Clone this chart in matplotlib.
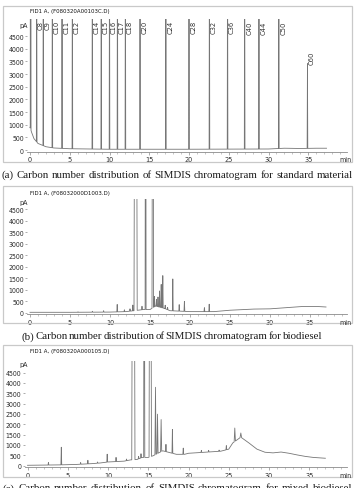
import numpy as np
import matplotlib
matplotlib.use('Agg')
import matplotlib.pyplot as plt
from matplotlib import font_manager

W, H = 355, 489

# ---------------- data ----------------
# (a) standard n-paraffin mixture (retention time in min, signal in pA)
a_labels = ['C8', 'C9', 'C10', 'C11', 'C12', 'C14', 'C15', 'C16', 'C17', 'C18',
            'C20', 'C24', 'C28', 'C32', 'C36', 'C40', 'C44', 'C50', 'C60']
a_times = [0.84, 1.67, 2.81, 4.03, 5.33, 7.84, 8.96, 10.0, 11.0, 12.0,
           13.84, 17.09, 20.0, 22.57, 24.85, 27.0, 28.8, 31.3, 34.9]
a_heights = [9000, 9000, 9000, 9000, 9000, 9000, 9000, 9000, 9000, 9000,
             9000, 9000, 9000, 9000, 9000, 9000, 9000, 9000, 3350]
a_solvent_t = [0.08]
a_solvent_h = [30000]
a_base_t = [0.0, 0.2, 0.5, 1.0, 2.0, 3.0, 5.0, 10.0, 20.0, 30.0, 32.0, 34.0, 36.0, 37.3]
a_base_v = [900, 700, 450, 260, 130, 80, 50, 30, 30, 40, 70, 60, 70, 70]

# (b) biodiesel
b_peak_t = [6.0, 7.8, 9.2, 10.9, 11.8, 12.5, 12.85, 13.2, 14.0, 14.45, 15.35,
            15.55, 15.8, 16.0, 16.2, 16.4, 16.6, 16.9, 17.2, 17.85, 18.65, 19.3,
            21.8, 22.4]
b_peak_h = [20, 40, 60, 320, 80, 100, 250, 30000, 150, 20000, 20000,
            450, 300, 420, 700, 1000, 1400, 150, 100, 1380, 280, 430,
            170, 320]
b_peak_w = [0.05, 0.05, 0.05, 0.05, 0.05, 0.05, 0.05, 0.2, 0.05, 0.06, 0.1,
            0.05, 0.05, 0.05, 0.05, 0.05, 0.05, 0.05, 0.05, 0.05, 0.05, 0.05,
            0.05, 0.05]
b_base_t = [0.0, 5.0, 10.0, 12.0, 13.0, 14.2, 15.0, 15.7, 16.8, 17.5, 20.0, 23.0,
            25.0, 28.0, 30.0, 32.0, 34.0, 36.0, 37.0]
b_base_v = [30, 30, 40, 60, 100, 150, 150, 300, 200, 100, 60, 60,
            120, 170, 180, 230, 280, 280, 260]

# (c) blended fuel
c_peak_t = [2.6, 4.2, 6.6, 7.5, 8.7, 9.9, 11.0, 12.3, 13.15, 13.8, 14.1, 14.5,
            15.25, 15.9, 16.15, 16.6, 17.2, 18.0, 19.35, 21.6, 22.5, 23.8, 24.7,
            25.75, 26.5]
c_peak_h = [120, 850, 80, 170, 60, 380, 200, 80, 30000, 120, 200, 20000,
            25000, 3250, 1900, 1550, 350, 1150, 300, 100, 80, 60, 200,
            650, 200]
c_peak_w = [0.05, 0.05, 0.05, 0.05, 0.05, 0.05, 0.05, 0.05, 0.2, 0.05, 0.05, 0.07,
            0.15, 0.07, 0.07, 0.07, 0.05, 0.05, 0.05, 0.05, 0.05, 0.05, 0.05,
            0.08, 0.1]
c_base_t = [0.0, 2.0, 4.0, 6.0, 8.0, 9.0, 10.0, 11.0, 12.0, 12.8, 13.6, 14.25, 15.0,
            15.6, 16.8, 17.5, 18.5, 19.5, 20.0, 22.0, 24.0, 25.0, 25.5, 26.5, 27.5,
            28.5, 29.5, 30.5, 31.5, 32.5, 33.5, 34.5, 35.5, 37.0]
c_base_v = [20, 30, 40, 60, 100, 130, 180, 200, 220, 280, 300, 400, 400,
            480, 720, 650, 550, 550, 600, 650, 700, 800, 1100, 1380, 1100,
            800, 650, 620, 660, 600, 520, 450, 400, 360]

y_ticks = [0, 500, 1000, 1500, 2000, 2500, 3000, 3500, 4000, 4500]
x_ticks = [0, 5, 10, 15, 20, 25, 30, 35]
titles = ['FID1 A, (F080320A00103C.D)', 'FID1 A, (F08032000D1003.D)',
          'FID1 A, (F080320A000105.D)']
captions = ['(a) Carbon number distribution of SIMDIS chromatogram for standard material',
            '(b) Carbon number distribution of SIMDIS chromatogram for biodiesel',
            '(c) Carbon number distribution of SIMDIS chromatogram for mixed biodiesel']

# ---------------- fonts ----------------
fl = font_manager.fontManager.ttflist
names = {f.name for f in fl}
if 'Liberation Sans Narrow' in names:
    NARROW, STRETCH = 'Liberation Sans Narrow', 'normal'
elif any(f.name == 'DejaVu Sans' and f.stretch == 'condensed' for f in fl):
    NARROW, STRETCH = 'DejaVu Sans', 'condensed'
else:
    NARROW, STRETCH = 'DejaVu Sans', 'normal'
SERIF = 'Liberation Serif' if 'Liberation Serif' in names else 'DejaVu Serif'

TRACE = '#767676'
TXT = '#2a2a2a'
BOX = '#c9c9c9'


def build_trace(base_t, base_v, pk_t, pk_h, pk_w):
    base_t = np.asarray(base_t, float)
    base_v = np.asarray(base_v, float)
    keep = np.ones(len(base_t), bool)
    for t, w in zip(pk_t, pk_w):
        keep &= ~((base_t > t - w) & (base_t < t + w))
    ts = list(base_t[keep])
    vs = list(base_v[keep])
    for t, h, w in zip(pk_t, pk_h, pk_w):
        for tt, add in ((t - w, 0.0), (t, h), (t + w, 0.0)):
            ts.append(tt)
            vs.append(float(np.interp(tt, base_t, base_v)) + add)
    order = np.argsort(ts, kind='stable')
    return np.asarray(ts)[order], np.asarray(vs)[order]


fig = plt.figure(figsize=(W / 100, H / 100), dpi=100)
fig.patch.set_facecolor('white')


def ftext(xpx, ypx, s, **kw):
    return fig.text(xpx / W, 1 - ypx / H, s, **kw)


def rect(x0, y0, x1, y1):
    r = plt.Rectangle((x0 / W, 1 - y1 / H), (x1 - x0) / W, (y1 - y0) / H,
                      transform=fig.transFigure, fill=False, ec=BOX, lw=0.9)
    fig.patches.append(r)


panels = [
    dict(zx=30.0, pxm=7.95, zy=151.0, pyk=25.3, yhi=5170, box=(3, 7, 352, 163), ty=12, pay=26),
    dict(zx=30.0, pxm=8.0, zy=314.0, pyk=23.1, yhi=4930, box=(3, 187, 352, 324), ty=193, pay=203),
    dict(zx=27.5, pxm=8.05, zy=466.7, pyk=20.7, yhi=5070, box=(3, 346, 352, 478), ty=352, pay=365),
]
traces = [
    build_trace(a_base_t, a_base_v, a_solvent_t + a_times, a_solvent_h + a_heights,
                [0.05] + [0.04] * len(a_times)),
    build_trace(b_base_t, b_base_v, b_peak_t, b_peak_h, b_peak_w),
    build_trace(c_base_t, c_base_v, c_peak_t, c_peak_h, c_peak_w),
]

ylo = -60
xlo = -0.35
axes = []
for i, (p, (tt, vv)) in enumerate(zip(panels, traces)):
    xhi = (347 - p['zx']) / p['pxm']
    left = p['zx'] + xlo * p['pxm']
    width = (xhi - xlo) * p['pxm']
    bottom_px = p['zy'] - ylo * p['pyk'] / 1000
    top_px = p['zy'] - p['yhi'] * p['pyk'] / 1000
    ax = fig.add_axes([left / W, 1 - bottom_px / H, width / W, (bottom_px - top_px) / H])
    ax.set_facecolor('none')
    ax.plot(tt, vv, color=TRACE, lw=0.6)
    ax.set_xlim(xlo, xhi)
    ax.set_ylim(ylo, p['yhi'])
    for s in ['top', 'right', 'left']:
        ax.spines[s].set_visible(False)
    ax.spines['bottom'].set_color('#8a8a8a')
    ax.spines['bottom'].set_linewidth(0.6)
    ax.set_xticks(x_ticks)
    ax.set_xticks(np.arange(0, 40, 1), minor=True)
    ax.set_xticklabels([str(v) for v in x_ticks])
    ax.set_yticks(y_ticks)
    ax.set_yticklabels([str(v) for v in y_ticks])
    ax.tick_params(axis='x', which='major', length=2.2, width=0.5, color='#8a8a8a',
                   pad=1.2, labelsize=5.2, labelcolor=TXT)
    ax.tick_params(axis='x', which='minor', length=1.2, width=0.4, color='#9a9a9a')
    ax.tick_params(axis='y', length=1.8, width=0.5, color='#8a8a8a', pad=0.6,
                   labelsize=5.0, labelcolor=TXT)
    for lab in ax.get_xticklabels() + ax.get_yticklabels():
        lab.set_family(NARROW)
        lab.set_fontstretch(STRETCH)
    # units
    ftext(345, p['zy'] + 9, 'min', fontsize=5.0, family=NARROW, fontstretch=STRETCH,
          color=TXT, ha='center', va='center')
    ftext(28, p['pay'], 'pA', fontsize=5.0, family=NARROW, fontstretch=STRETCH,
          color=TXT, ha='right', va='center')
    ftext(30, p['ty'], titles[i], fontsize=4.3, family=NARROW, fontstretch=STRETCH,
          color='#111111', ha='left', va='center')
    rect(*p['box'])
    axes.append(ax)

# peak labels for panel (a)
axa = axes[0]
pa = panels[0]
for k, (lab, t, h) in enumerate(zip(a_labels, a_times, a_heights)):
    off = 0.6 if k == 0 else 1.5
    x = t + off / pa['pxm']
    if h > pa['yhi']:
        axa.text(x, pa['yhi'] - 40, lab, rotation=90, fontsize=4.9, color='#333333',
                 ha='left', va='top', family='DejaVu Sans')
    else:
        axa.text(x, h + 40, lab, rotation=90, fontsize=4.9, color='#333333',
                 ha='left', va='bottom', family='DejaVu Sans')

# justified captions
renderer = fig.canvas.get_renderer()


def justified(text, x0, x1, ypx, size, va='center'):
    words = text.split()
    objs = [ftext(0, ypx, w, fontsize=size, family=SERIF, color='#1a1a1a',
                  ha='left', va=va) for w in words]
    widths = [o.get_window_extent(renderer=renderer).width for o in objs]
    gap = (x1 - x0 - sum(widths)) / (len(words) - 1)
    x = x0
    for o, wd in zip(objs, widths):
        o.set_x(x / W)
        x += wd + gap


justified(captions[0], 2, 353, 175, 7.8)
justified(captions[1], 22, 322, 337, 7.8)
justified(captions[2], 3, 352, 484.5, 7.8, va='top')

fig.savefig('out.png', dpi=100, facecolor='white')
